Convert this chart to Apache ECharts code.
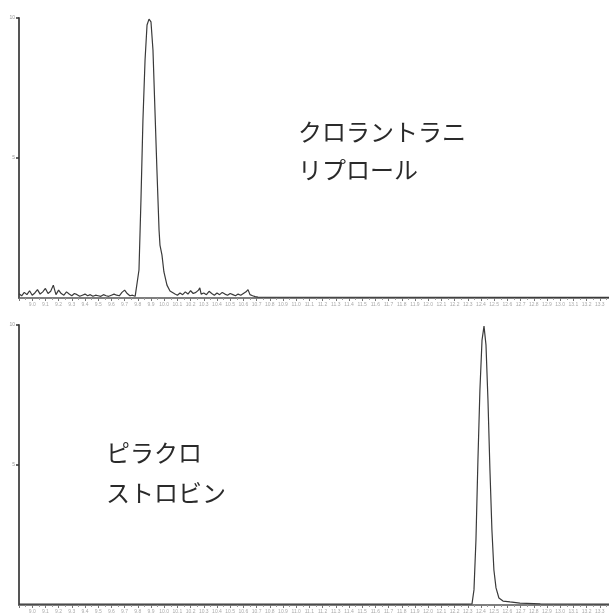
<!DOCTYPE html>
<html>
<head>
<meta charset="utf-8">
<script src="https://cdn.jsdelivr.net/npm/echarts@6/dist/echarts.min.js"></script>
<style>html,body{margin:0;padding:0;background:#fff;}#c{width:609px;height:614px;}</style>
</head>
<body>
<div id="c"></div>
<script>
// Top trace: クロラントラニリプロール
var topTime = [0.00,0.02,0.04,0.06,0.08,0.10,0.12,0.14,0.16,0.18,0.20,0.22,0.24,0.26,0.28,0.30,0.32,0.34,0.36,0.38,0.40,0.42,0.44,0.46,0.48,0.50,0.52,0.54,0.56,0.58,0.60,0.62,0.64,0.66,0.68,0.70,0.72,0.74,0.76,0.78,0.80,0.82,0.84,0.86,0.88,
  0.894,0.909,0.924,0.939,0.955,0.970,0.985,1.000,1.015,1.030,1.045,1.061,1.068,1.083,1.098,1.121,1.144,1.182,
  1.20,1.22,1.24,1.26,1.28,1.30,1.32,1.34,1.36,1.37,1.38,1.40,1.42,1.44,1.46,1.48,1.50,1.52,1.54,1.56,1.58,1.60,1.62,1.64,1.66,1.68,1.70,1.72,1.735,1.75,1.77,1.79,1.81,4.47];
var topSignal = [1.5,0.8,2.0,1.2,2.6,1.0,1.8,3.0,1.4,2.2,3.4,1.6,2.4,4.6,1.2,2.8,1.6,1.0,2.2,1.4,0.8,1.6,1.2,0.6,1.0,1.4,0.8,1.2,0.6,1.0,0.8,0.6,1.2,0.8,0.6,1.0,1.4,1.0,0.8,2.0,2.8,1.6,0.8,1.0,0.6,
  0.4,10.0,35.0,63.6,85.0,97.5,99.6,98.6,88.6,67.1,45.7,24.3,18.9,15.4,9.3,4.6,2.5,1.4,
  1.0,1.8,1.2,2.2,1.4,2.6,1.6,2.0,2.8,3.6,1.4,1.8,1.2,2.4,1.6,1.0,1.8,1.2,2.0,1.4,1.0,1.6,1.2,0.8,1.4,1.0,1.6,2.2,3.0,1.2,0.8,0.5,0.3,0.2];
// Bottom trace: ピラクロストロビン
var bottomTime = [0.00,1.00,2.00,3.00,3.40,3.432,3.447,3.462,3.477,3.492,3.508,3.523,3.538,3.553,3.568,3.583,3.598,3.614,3.636,3.667,3.720,3.795,3.95,4.47];
var bottomSignal = [0.3,0.3,0.3,0.3,0.3,0.4,5.4,23.2,51.8,76.8,94.6,99.6,92.9,73.2,48.2,26.8,12.5,6.1,2.5,1.4,1.1,0.7,0.4,0.3];
var topLabel = ['クロラントラニ', 'リプロール'];
var bottomLabel = ['ピラクロ', 'ストロビン'];

var chart = echarts.init(document.getElementById('c'), null, {renderer: 'canvas'});
function xAxisCfg(gi) {
  return {
    type: 'value', gridIndex: gi, min: 0, max: 4.47, interval: 0.1,
    axisLine: {lineStyle: {color: '#555', width: 1.5}},
    axisTick: {show: true, length: 3, inside: false, lineStyle: {color: '#777'}},
    minorTick: {show: true, splitNumber: 2, length: 2, lineStyle: {color: '#999'}},
    axisLabel: {fontSize: 5, color: '#aaa', margin: 4, showMinLabel: false,
      formatter: function (v) { return (v + 8.9).toFixed(1); }},
    splitLine: {show: false}
  };
}
function yAxisCfg(gi) {
  return {
    type: 'value', gridIndex: gi, min: 0, max: 100, interval: 50,
    axisLine: {show: true, lineStyle: {color: '#555', width: 2}},
    axisTick: {show: true, length: 3, lineStyle: {color: '#333', width: 1.5}},
    axisLabel: {fontSize: 5, color: '#999', margin: 4, showMinLabel: false,
      formatter: function (v) { return String(v / 10); }},
    splitLine: {show: false}
  };
}
chart.setOption({
  backgroundColor: '#fff',
  animation: false,
  grid: [
    {left: 19, right: 0, top: 18, height: 280},
    {left: 19, right: 0, top: 325, height: 280}
  ],
  xAxis: [xAxisCfg(0), xAxisCfg(1)],
  yAxis: [yAxisCfg(0), yAxisCfg(1)],
  series: [
    {type: 'line', xAxisIndex: 0, yAxisIndex: 0, showSymbol: false, smooth: false,
      lineStyle: {color: '#3a3a3a', width: 1.2},
      data: topTime.map(function (t, i) { return [t, topSignal[i]]; })},
    {type: 'line', xAxisIndex: 1, yAxisIndex: 1, showSymbol: false, smooth: false,
      lineStyle: {color: '#3a3a3a', width: 1.2},
      data: bottomTime.map(function (t, i) { return [t, bottomSignal[i]]; })}
  ],
  graphic: [
    {type: 'text', left: 298, top: 113, style: {text: topLabel.join('\n'), fill: '#2a2a2a',
      font: '24px "Noto Sans CJK JP"', lineHeight: 38}},
    {type: 'text', left: 106, top: 433, style: {text: bottomLabel.join('\n'), fill: '#2a2a2a',
      font: '24px "Noto Sans CJK JP"', lineHeight: 40}}
  ]
});
</script>
</body>
</html>
